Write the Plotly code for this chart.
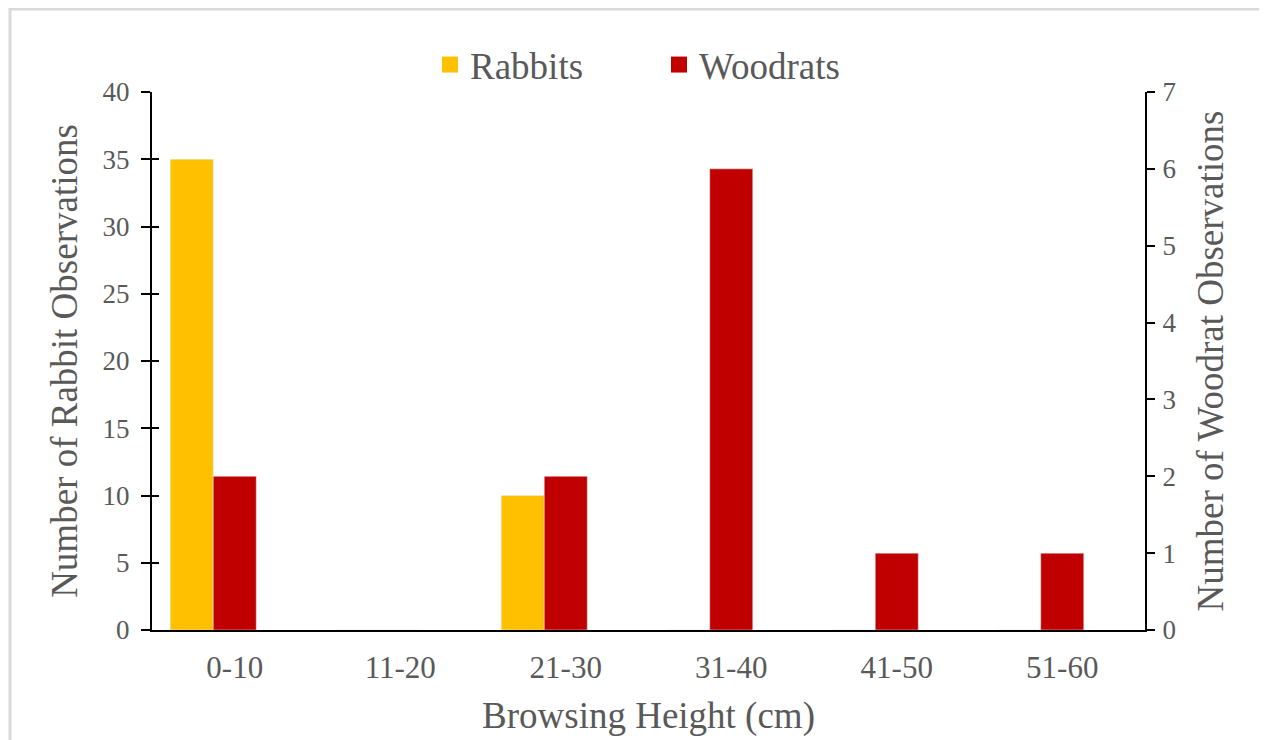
import plotly.graph_objects as go

categories = ["0-10", "11-20", "21-30", "31-40", "41-50", "51-60"]
rabbits = [35, 0, 10, 0, 0, 0]
woodrats = [2, 0, 2, 6, 1, 1]

FONT = "Liberation Serif"
GREY = "#595959"
GOLD = "#FFC000"
RED = "#C00000"

# page body adds ~8px offset; compensate
OFF = 8
L, T = 152 - OFF, 92 - OFF
PW, PH = 993, 538
R = 1267 - L - PW
B = 740 - T - PH

fig = go.Figure()
fig.add_trace(go.Bar(x=categories, y=rabbits, name="Rabbits", marker_color=GOLD,
                     offset=-0.39, width=0.26, yaxis="y", legendgroup="r", showlegend=False))
fig.add_trace(go.Bar(x=categories, y=woodrats, name="Woodrats", marker_color=RED,
                     offset=-0.13, width=0.26, yaxis="y2", legendgroup="w", showlegend=False))
# legend entries with larger square swatches
fig.add_trace(go.Scatter(x=[None], y=[None], mode="markers", name="Rabbits", legendgroup="r",
                         marker=dict(symbol="square", size=20, color=GOLD)))
fig.add_trace(go.Scatter(x=[None], y=[None], mode="markers", name="Woodrats", legendgroup="w",
                         marker=dict(symbol="square", size=20, color=RED)))
# helper axis for the inner half of the left ticks
fig.add_trace(go.Scatter(x=[None], y=[None], yaxis="y3", showlegend=False, hoverinfo="skip"))

fig.update_layout(
    width=1267, height=740,
    margin=dict(l=L, r=R, t=T, b=B, autoexpand=False),
    paper_bgcolor="white", plot_bgcolor="white",
    font=dict(family=FONT, color=GREY, size=27),
    barmode="overlay",
    showlegend=True,
    legend=dict(orientation="h", x=(430 - 152) / PW, xanchor="left",
                y=(630 - 65) / PH, yanchor="middle",
                font=dict(size=37, color=GREY), traceorder="normal",
                itemwidth=30, entrywidth=184, bgcolor="rgba(0,0,0,0)"),
    xaxis=dict(showline=True, linecolor="black", linewidth=2, ticks="", automargin=False,
               tickfont=dict(size=31, color=GREY), ticklabelstandoff=9,
               title=dict(text="Browsing Height (cm)", font=dict(size=37, color=GREY), standoff=18)),
    yaxis=dict(range=[0, 40], dtick=5, showgrid=False, showline=True, linecolor="black",
               linewidth=2, ticks="outside", ticklen=9, tickwidth=2, tickcolor="black",
               tickfont=dict(size=27, color=GREY), zeroline=False, automargin=False,
               ticklabelstandoff=6,
               title=dict(text="Number of Rabbit Observations", font=dict(size=37, color=GREY), standoff=14)),
    yaxis2=dict(range=[0, 7], dtick=1, overlaying="y", side="right", showgrid=False,
                showline=True, linecolor="black", linewidth=2, ticks="outside", ticklen=8,
                tickwidth=2, tickcolor="black", tickfont=dict(size=27, color=GREY), zeroline=False,
                automargin=False, ticklabelstandoff=2,
                title=dict(text="Number of Woodrat Observations", font=dict(size=37, color=GREY), standoff=22)),
    yaxis3=dict(range=[0, 40], dtick=5, overlaying="y", side="left", showgrid=False,
                showline=False, ticks="inside", ticklen=7, tickwidth=2, tickcolor="black",
                showticklabels=False, zeroline=False, automargin=False),
)

fig.add_shape(type="rect", xref="paper", yref="paper",
              x0=-(152 - 10) / PW, x1=(1267 - 152 + 40) / PW,
              y0=-0.5, y1=1 + (T - 1) / PH,
              line=dict(color="#D9D9D9", width=3), fillcolor="rgba(0,0,0,0)", layer="below")

fig.write_html("out.html")
